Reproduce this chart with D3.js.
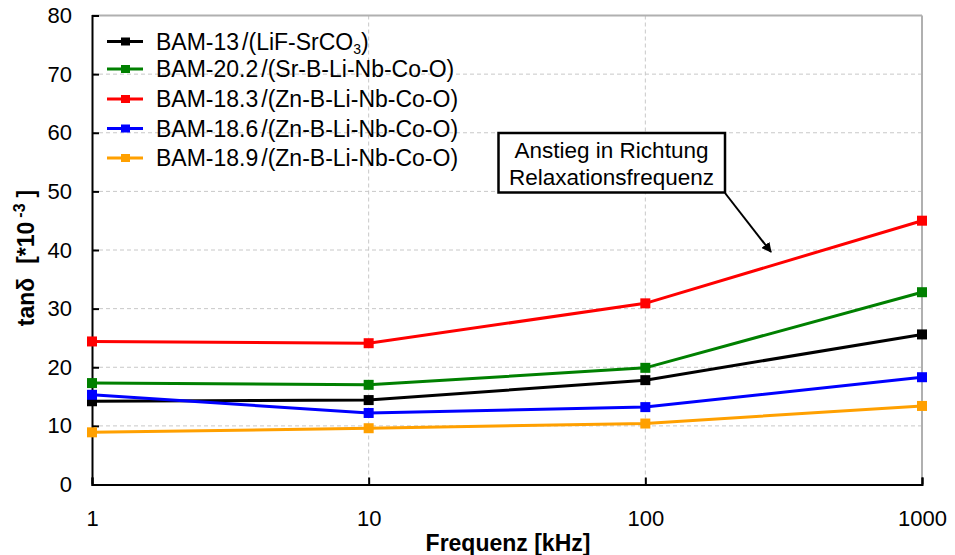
<!DOCTYPE html>
<html><head><meta charset="utf-8">
<script src="https://cdn.jsdelivr.net/npm/d3@7/dist/d3.min.js"></script>
<style>body{margin:0;background:#fff}svg{display:block;font-family:"Liberation Sans",Arial,sans-serif}</style>
</head><body><svg id="c" width="955" height="555"></svg>
<script>
const freqs = [1, 10, 100, 1000];
const seriesNames = ["BAM-13", "BAM-20.2", "BAM-18.3", "BAM-18.6", "BAM-18.9"];
const seriesSuffix = ["/(LiF-SrCO", "/(Sr-B-Li-Nb-Co-O)", "/(Zn-B-Li-Nb-Co-O)", "/(Zn-B-Li-Nb-Co-O)", "/(Zn-B-Li-Nb-Co-O)"];
const bam13 = [14.2, 14.4, 17.8, 25.6];
const bam202 = [17.3, 17.0, 19.9, 32.8];
const bam183 = [24.4, 24.1, 30.9, 45.0];
const bam186 = [15.3, 12.2, 13.2, 18.3];
const bam189 = [8.9, 9.6, 10.4, 13.4];
const colors = ["#000000", "#008000", "#ff0000", "#0000ff", "#ffa000"];
const yTicks = [0, 10, 20, 30, 40, 50, 60, 70, 80];
const xTicks = [1, 10, 100, 1000];
const allSeries = [bam13, bam202, bam183, bam186, bam189];

const svg = d3.select("#c");
const L = 92, R = 922, T = 15.5, B = 484.5;
const x = d3.scaleLog().domain([1, 1000]).range([L, R]);
const y = d3.scaleLinear().domain([0, 80]).range([B, T]);

// gridlines
const g = svg.append("g");
g.selectAll(".hg").data(yTicks.filter(v => v > 0 && v < 80)).enter().append("line")
  .attr("x1", L).attr("x2", R).attr("y1", d => y(d)).attr("y2", d => y(d))
  .attr("stroke", "#c8c8c8").attr("stroke-width", 1).attr("stroke-dasharray", "4,3");
g.selectAll(".vg").data([10, 100]).enter().append("line")
  .attr("x1", d => x(d)).attr("x2", d => x(d)).attr("y1", T).attr("y2", B)
  .attr("stroke", "#c8c8c8").attr("stroke-width", 1).attr("stroke-dasharray", "4,3");
// top/right frame
svg.append("line").attr("x1", L).attr("x2", R).attr("y1", T).attr("y2", T).attr("stroke", "#b0b0b0").attr("stroke-width", 2);
svg.append("line").attr("x1", R).attr("x2", R).attr("y1", T).attr("y2", B).attr("stroke", "#b0b0b0").attr("stroke-width", 2);

// axes
const yAxis = d3.axisLeft(y).tickValues(yTicks).tickSize(-7).tickPadding(20).tickFormat(d3.format("d"));
const ya = svg.append("g").attr("transform", `translate(${L},0)`).call(yAxis);
ya.select(".domain").attr("stroke", "#000").attr("stroke-width", 2);
ya.selectAll(".tick line").attr("stroke", "#000").attr("stroke-width", 2);
ya.selectAll(".tick text").attr("font-size", 22).attr("fill", "#000").attr("font-family", "Liberation Sans, Arial");

const xAxis = d3.axisBottom(x).tickValues(xTicks).tickSize(-7).tickPadding(26).tickFormat(d3.format("d"));
const xa = svg.append("g").attr("transform", `translate(0,${B})`).call(xAxis);
xa.select(".domain").attr("stroke", "#000").attr("stroke-width", 2);
xa.selectAll(".tick line").attr("stroke", "#000").attr("stroke-width", 2);
xa.selectAll(".tick text").attr("font-size", 22).attr("fill", "#000").attr("font-family", "Liberation Sans, Arial");

// axis titles
svg.append("text").attr("x", 508).attr("y", 551).attr("text-anchor", "middle")
  .attr("font-size", 23).attr("font-weight", "bold").text("Frequenz [kHz]");
const yt = svg.append("text").attr("transform", "translate(34,258) rotate(-90)").attr("text-anchor", "middle")
  .attr("font-size", 23).attr("font-weight", "bold");
yt.append("tspan").text("tanδ");
yt.append("tspan").attr("dx", 14).text("[*10");
yt.append("tspan").attr("dx", 4).attr("dy", -9).attr("font-size", 16).text("-3");
yt.append("tspan").attr("dx", 6).attr("dy", 9).text("]");

// lines
const line = d3.line().x((d, i) => x(freqs[i])).y(d => y(d));
allSeries.forEach((s, k) => {
  svg.append("path").datum(s).attr("d", line).attr("fill", "none")
    .attr("stroke", colors[k]).attr("stroke-width", 3);
  svg.selectAll(null).data(s).enter().append("rect")
    .attr("x", (d, i) => x(freqs[i]) - 5).attr("y", d => y(d) - 5)
    .attr("width", 10).attr("height", 10).attr("fill", colors[k]);
});

// legend
const lg = svg.append("g");
const rows = [41.5, 69, 99, 128.5, 158];
seriesNames.forEach((n, k) => {
  const yy = rows[k];
  lg.append("line").attr("x1", 107).attr("x2", 143).attr("y1", yy).attr("y2", yy)
    .attr("stroke", colors[k]).attr("stroke-width", 3);
  lg.append("rect").attr("x", 121).attr("y", yy - 4).attr("width", 9).attr("height", 8).attr("fill", colors[k]);
  const t = lg.append("text").attr("x", 156).attr("y", yy + 8).attr("font-size", 23).attr("fill", "#000");
  t.append("tspan").text(n);
  t.append("tspan").attr("dx", 3).text(seriesSuffix[k]);
  if (k === 0) {
    t.append("tspan").attr("dy", 4).attr("font-size", 14).text("3");
    t.append("tspan").attr("dy", -4).text(")");
  }
});

// annotation
svg.append("rect").attr("x", 498.5).attr("y", 133).attr("width", 226.5).attr("height", 59.5)
  .attr("fill", "#fff").attr("stroke", "#000").attr("stroke-width", 2.5);
svg.append("text").attr("x", 611.5).attr("y", 158).attr("text-anchor", "middle").attr("font-size", 22.5).text("Anstieg in Richtung");
svg.append("text").attr("x", 611.5).attr("y", 185).attr("text-anchor", "middle").attr("font-size", 22.5).text("Relaxationsfrequenz");
svg.append("defs").append("marker").attr("id", "ah").attr("viewBox", "0 0 10 10").attr("refX", 9).attr("refY", 5)
  .attr("markerWidth", 5).attr("markerHeight", 5).attr("orient", "auto")
  .append("path").attr("d", "M0,0 L10,5 L0,10 z").attr("fill", "#000");
svg.append("line").attr("x1", 725).attr("y1", 193).attr("x2", 771).attr("y2", 252)
  .attr("stroke", "#000").attr("stroke-width", 2).attr("marker-end", "url(#ah)");
</script></body></html>
